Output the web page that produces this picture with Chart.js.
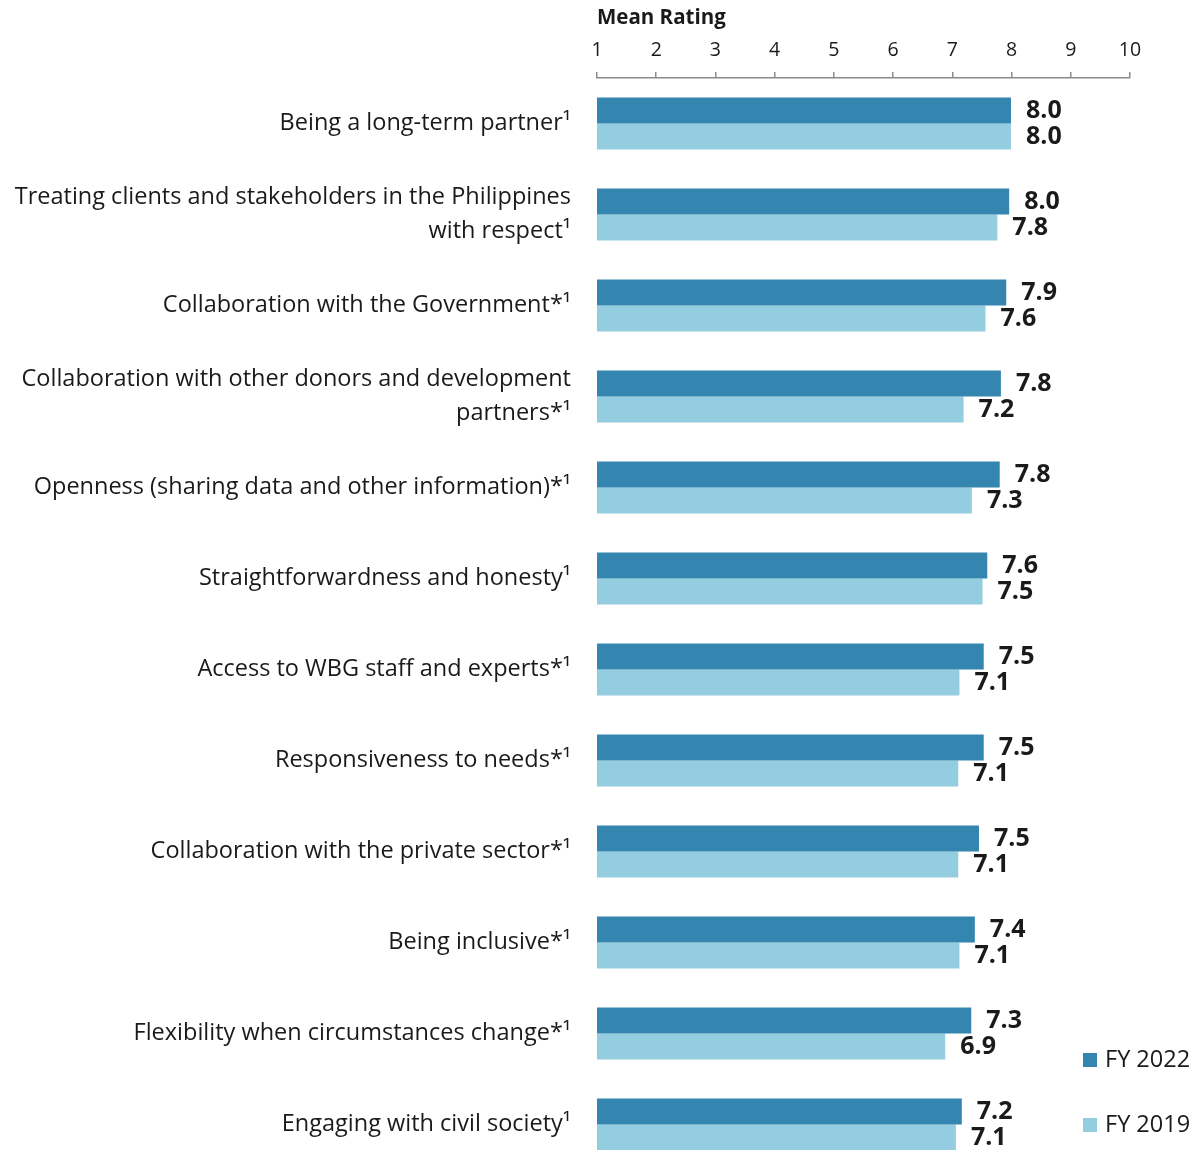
<!DOCTYPE html>
<html>
<head>
<meta charset="utf-8">
<script src="https://cdn.jsdelivr.net/npm/chart.js@4.4.1/dist/chart.umd.min.js"></script>
<style>
  html, body { margin: 0; padding: 0; background: #fff; overflow: hidden; }
  canvas { display: block; }
</style>
</head>
<body>
<canvas id="ratingChart" width="1198" height="1170"></canvas>
<script>
const categories = [
    'Being a long-term partner\u00b9',
    ['Treating clients and stakeholders in the Philippines', 'with respect\u00b9'],
    'Collaboration with the Government*\u00b9',
    ['Collaboration with other donors and development', 'partners*\u00b9'],
    'Openness (sharing data and other information)*\u00b9',
    'Straightforwardness and honesty\u00b9',
    'Access to WBG staff and experts*\u00b9',
    'Responsiveness to needs*\u00b9',
    'Collaboration with the private sector*\u00b9',
    'Being inclusive*\u00b9',
    'Flexibility when circumstances change*\u00b9',
    'Engaging with civil society\u00b9'
];
const fy2022 = [7.99, 7.96, 7.91, 7.82, 7.80, 7.59, 7.53, 7.53, 7.45, 7.38, 7.32, 7.16];
const fy2019 = [7.99, 7.76, 7.56, 7.19, 7.33, 7.51, 7.12, 7.10, 7.10, 7.12, 6.88, 7.06];
const seriesNames = ['FY 2022', 'FY 2019'];
const xTicks = [1, 2, 3, 4, 5, 6, 7, 8, 9, 10];

const darkBlue = '#3485b0';
const lightBlue = '#94cddf';
const textColor = '#1a1a1a';
const fontFamily = '"Open Sans", "DejaVu Sans", sans-serif';

// value labels right of each bar
const valueLabels = {
    id: 'valueLabels',
    afterDatasetsDraw(chart) {
        const ctx = chart.ctx;
        ctx.save();
        ctx.font = 'bold 25px ' + fontFamily;
        ctx.fillStyle = textColor;
        ctx.textAlign = 'left';
        ctx.textBaseline = 'middle';
        chart.data.datasets.forEach((ds, i) => {
            chart.getDatasetMeta(i).data.forEach((bar, j) => {
                ctx.fillText(ds.data[j].toFixed(1), bar.x + 15, bar.y);
            });
        });
        ctx.restore();
    }
};

// legend stacked in the bottom right corner
const cornerLegend = {
    id: 'cornerLegend',
    afterDraw(chart) {
        const ctx = chart.ctx;
        const colors = [darkBlue, lightBlue];
        const rows = [1060, 1125];
        ctx.save();
        ctx.font = '23.5px ' + fontFamily;
        ctx.textBaseline = 'middle';
        ctx.textAlign = 'left';
        seriesNames.forEach((name, i) => {
            ctx.fillStyle = colors[i];
            ctx.fillRect(1083, rows[i] - 7, 14, 14);
            ctx.fillStyle = textColor;
            ctx.fillText(name, 1105, rows[i]);
        });
        ctx.restore();
    }
};

new Chart(document.getElementById('ratingChart'), {
    type: 'bar',
    data: {
        labels: categories,
        datasets: [
            { label: seriesNames[0], data: fy2022, backgroundColor: darkBlue },
            { label: seriesNames[1], data: fy2019, backgroundColor: lightBlue }
        ]
    },
    options: {
        indexAxis: 'y',
        responsive: false,
        animation: false,
        datasets: {
            bar: { categoryPercentage: 0.572, barPercentage: 1.0 }
        },
        layout: { padding: { top: 0, right: 68, bottom: 0, left: 0 } },
        plugins: {
            legend: { display: false },
            tooltip: { enabled: false }
        },
        scales: {
            x: {
                position: 'top',
                min: 1,
                max: 10,
                afterBuildTicks: scale => {
                    scale.ticks = xTicks.map(v => ({ value: v }));
                },
                afterFit: scale => { scale.height = 78; },
                grid: {
                    drawOnChartArea: false,
                    drawTicks: true,
                    tickLength: 6,
                    color: '#8c8c8c',
                    lineWidth: 1.5
                },
                border: { display: true, color: '#8c8c8c', width: 1.5 },
                ticks: {
                    color: textColor,
                    padding: 10,
                    font: { family: fontFamily, size: 19.5 }
                },
                title: {
                    display: true,
                    text: 'Mean Rating',
                    align: 'start',
                    color: textColor,
                    padding: { top: 6, bottom: 0 },
                    font: { family: fontFamily, size: 20.5, weight: 'bold' }
                }
            },
            y: {
                afterFit: scale => {
                    scale.width = 597;
                    scale.paddingTop = 0;
                    scale.paddingBottom = 0;
                },
                grid: { display: false, drawTicks: false },
                border: { display: false },
                ticks: {
                    color: textColor,
                    padding: 26,
                    autoSkip: false,
                    font: { family: fontFamily, size: 23.5, lineHeight: 1.45 }
                }
            }
        }
    },
    plugins: [valueLabels, cornerLegend]
});
</script>
</body>
</html>
